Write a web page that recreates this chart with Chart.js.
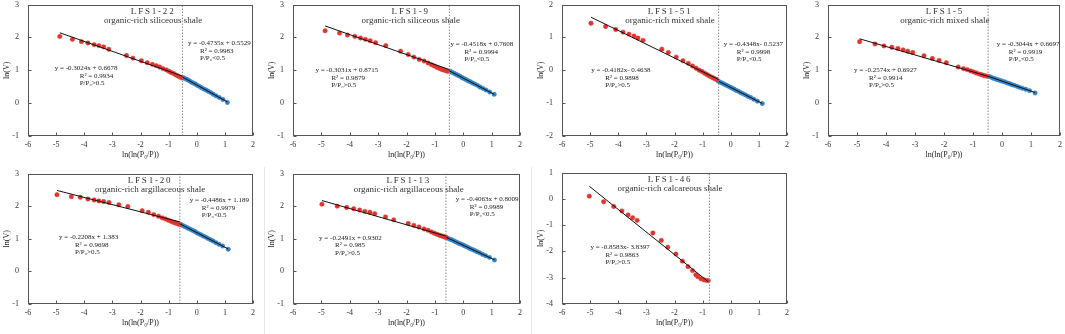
<!DOCTYPE html>
<html>
<head>
<meta charset="utf-8">
<script src="https://cdn.jsdelivr.net/npm/chart.js@4.4.0/dist/chart.umd.min.js"></script>
<style>
    body { margin: 0; background: #fff; }
    #page { position: relative; width: 1065px; height: 334px; overflow: hidden; background: #fff; }
    .panel { position: absolute; }
    .sep { position: absolute; width: 1px; background: #e8e8e8; }
</style>
</head>
<body>
<div id="page"></div>
<script>
// Sample names and lithology (one entry per panel)
const sampleNames = ['LFS1-22', 'LFS1-9', 'LFS1-51', 'LFS1-5', 'LFS1-20', 'LFS1-13', 'LFS1-46'];
const lithologies = [
    'organic-rich siliceous shale',
    'organic-rich siliceous shale',
    'organic-rich mixed shale',
    'organic-rich mixed shale',
    'organic-rich argillaceous shale',
    'organic-rich argillaceous shale',
    'organic-rich calcareous shale'
];

// Axis ranges
const xTickMin = -6;
const xTickMax = 2;
const yTickMins = [-1, -1, -2, -1, -1, -1, -4];
const yTickMaxs = [3, 3, 2, 3, 3, 3, 1];

// Position of P/P0 = 0.5 (dotted line)
const dividers = [-0.51, -0.49, -0.43, -0.48, -0.60, -0.61, -0.76];

// Fit parameters (from the equations on the figure)
const highSlopes = [-0.3024, -0.3031, -0.4182, -0.2574, -0.2208, -0.2491, -0.8583];
const highIntercepts = [0.6678, 0.8715, -0.4638, 0.6927, 1.383, 0.9302, -3.8397];
const lowSlopes = [-0.4735, -0.4518, -0.4348, -0.3044, -0.4486, -0.4063, null];
const lowIntercepts = [0.5529, 0.7608, -0.5237, 0.6697, 1.189, 0.8009, null];

const highEquations = ['y = -0.3024x + 0.6678', 'y = -0.3031x + 0.8715', 'y = -0.4182x- 0.4638', 'y = -0.2574x + 0.6927',
    'y = -0.2208x + 1.383', 'y = -0.2491x + 0.9302', 'y = -0.8583x- 3.8397'];
const highR2 = ['R² = 0.9934', 'R² = 0.9879', 'R² = 0.9898', 'R² = 0.9914', 'R² = 0.9698', 'R² = 0.985', 'R² = 0.9863'];
const lowEquations = ['y = -0.4735x + 0.5529', 'y = -0.4518x + 0.7608', 'y = -0.4348x- 0.5237', 'y = -0.3044x + 0.6697',
    'y = -0.4486x + 1.189', 'y = -0.4063x + 0.8009', null];
const lowR2 = ['R² = 0.9983', 'R² = 0.9994', 'R² = 0.9998', 'R² = 0.9919', 'R² = 0.9979', 'R² = 0.9989', null];

// LFS1-22
const lfs22HighX = [-4.87, -4.42, -4.10, -3.87, -3.65, -3.48, -3.31, -3.13, -2.50, -2.27, -1.97, -1.76, -1.58, -1.44, -1.32, -1.20, -1.08, -0.99, -0.91, -0.82, -0.75, -0.68, -0.61, -0.54];
const lfs22HighY = [2.03, 1.94, 1.87, 1.83, 1.78, 1.75, 1.71, 1.64, 1.45, 1.37, 1.29, 1.23, 1.18, 1.14, 1.10, 1.05, 1.01, 0.97, 0.93, 0.90, 0.86, 0.83, 0.80, 0.77];
const lfs22LowX = [-0.47, -0.40, -0.33, -0.26, -0.19, -0.12, -0.05, 0.02, 0.09, 0.17, 0.25, 0.33, 0.41, 0.50, 0.59, 0.69, 0.80, 0.93, 1.09];
const lfs22LowY = [0.77, 0.74, 0.71, 0.68, 0.64, 0.61, 0.58, 0.54, 0.51, 0.47, 0.43, 0.40, 0.36, 0.32, 0.27, 0.22, 0.17, 0.11, 0.02];

// LFS1-9
const lfs9HighX = [-4.87, -4.36, -4.08, -3.82, -3.62, -3.45, -3.28, -3.09, -2.73, -2.21, -1.94, -1.74, -1.55, -1.38, -1.24, -1.12, -1.02, -0.93, -0.85, -0.77, -0.70, -0.63, -0.56];
const lfs9HighY = [2.20, 2.13, 2.07, 2.03, 1.98, 1.94, 1.90, 1.84, 1.75, 1.58, 1.48, 1.40, 1.33, 1.28, 1.22, 1.17, 1.13, 1.09, 1.06, 1.03, 1.01, 0.99, 0.97];
const lfs9LowX = [-0.47, -0.40, -0.33, -0.26, -0.19, -0.12, -0.05, 0.02, 0.09, 0.17, 0.25, 0.33, 0.41, 0.50, 0.59, 0.69, 0.80, 0.93, 1.09];
const lfs9LowY = [0.97, 0.94, 0.91, 0.88, 0.85, 0.82, 0.78, 0.75, 0.72, 0.68, 0.65, 0.61, 0.58, 0.54, 0.49, 0.45, 0.40, 0.34, 0.27];

// LFS1-51
const lfs51HighX = [-4.97, -4.45, -4.09, -3.83, -3.62, -3.44, -3.30, -3.12, -2.45, -2.22, -1.94, -1.70, -1.51, -1.36, -1.23, -1.12, -1.02, -0.93, -0.85, -0.77, -0.70, -0.63, -0.57, -0.51];
const lfs51HighY = [1.43, 1.33, 1.24, 1.16, 1.10, 1.04, 0.98, 0.91, 0.64, 0.54, 0.40, 0.29, 0.21, 0.13, 0.06, 0.00, -0.04, -0.09, -0.13, -0.17, -0.20, -0.23, -0.26, -0.28];
const lfs51LowX = [-0.45, -0.38, -0.31, -0.24, -0.17, -0.10, -0.03, 0.04, 0.11, 0.19, 0.27, 0.35, 0.43, 0.52, 0.61, 0.71, 0.82, 0.95, 1.12];
const lfs51LowY = [-0.33, -0.36, -0.39, -0.42, -0.45, -0.48, -0.51, -0.54, -0.57, -0.61, -0.64, -0.68, -0.71, -0.75, -0.79, -0.83, -0.88, -0.94, -1.01];

// LFS1-5
const lfs5HighX = [-4.91, -4.38, -4.07, -3.80, -3.59, -3.41, -3.25, -3.08, -2.69, -2.40, -2.17, -1.92, -1.51, -1.33, -1.20, -1.08, -0.98, -0.89, -0.80, -0.72, -0.65, -0.58, -0.52];
const lfs5HighY = [1.87, 1.80, 1.74, 1.70, 1.66, 1.62, 1.58, 1.54, 1.44, 1.36, 1.30, 1.23, 1.10, 1.05, 1.02, 0.98, 0.95, 0.92, 0.89, 0.87, 0.85, 0.83, 0.82];
const lfs5LowX = [-0.45, -0.38, -0.31, -0.24, -0.17, -0.10, -0.03, 0.04, 0.11, 0.19, 0.27, 0.35, 0.43, 0.52, 0.61, 0.71, 0.82, 0.95, 1.14];
const lfs5LowY = [0.81, 0.79, 0.76, 0.74, 0.72, 0.70, 0.68, 0.66, 0.64, 0.61, 0.59, 0.56, 0.54, 0.51, 0.48, 0.45, 0.42, 0.38, 0.31];

// LFS1-20
const lfs20HighX = [-4.97, -4.46, -4.14, -3.87, -3.65, -3.48, -3.31, -3.12, -2.77, -2.45, -1.94, -1.72, -1.53, -1.36, -1.23, -1.12, -1.02, -0.93, -0.85, -0.78, -0.71, -0.65, -0.60];
const lfs20HighY = [2.35, 2.29, 2.27, 2.22, 2.19, 2.16, 2.14, 2.11, 2.04, 1.99, 1.86, 1.81, 1.74, 1.69, 1.64, 1.61, 1.57, 1.54, 1.51, 1.49, 1.47, 1.45, 1.44];
const lfs20LowX = [-0.55, -0.48, -0.41, -0.34, -0.27, -0.20, -0.13, -0.06, 0.01, 0.08, 0.16, 0.24, 0.32, 0.40, 0.49, 0.58, 0.68, 0.79, 0.92, 1.12];
const lfs20LowY = [1.43, 1.40, 1.37, 1.34, 1.31, 1.28, 1.25, 1.22, 1.18, 1.15, 1.12, 1.08, 1.05, 1.01, 0.97, 0.93, 0.88, 0.83, 0.78, 0.68];

// LFS1-13
const lfs13HighX = [-4.98, -4.44, -4.11, -3.86, -3.65, -3.47, -3.29, -3.12, -2.74, -2.45, -1.94, -1.74, -1.56, -1.38, -1.24, -1.12, -1.02, -0.93, -0.85, -0.78, -0.71, -0.65, -0.60];
const lfs13HighY = [2.06, 2.00, 1.96, 1.92, 1.88, 1.84, 1.81, 1.77, 1.67, 1.58, 1.47, 1.41, 1.36, 1.30, 1.26, 1.21, 1.17, 1.14, 1.11, 1.09, 1.07, 1.05, 1.04];
const lfs13LowX = [-0.55, -0.48, -0.41, -0.34, -0.27, -0.20, -0.13, -0.06, 0.01, 0.08, 0.16, 0.24, 0.32, 0.40, 0.49, 0.58, 0.68, 0.79, 0.92, 1.10];
const lfs13LowY = [1.02, 0.99, 0.97, 0.94, 0.91, 0.88, 0.85, 0.83, 0.80, 0.77, 0.74, 0.70, 0.67, 0.64, 0.60, 0.57, 0.52, 0.48, 0.43, 0.35];

// LFS1-46 (only P/P0 > 0.5)
const lfs46HighX = [-5.03, -4.52, -4.16, -3.87, -3.65, -3.49, -3.33, -2.77, -2.47, -2.24, -1.95, -1.72, -1.52, -1.36, -1.24, -1.17, -1.06, -0.96, -0.88, -0.80];
const lfs46HighY = [0.10, -0.11, -0.29, -0.46, -0.61, -0.72, -0.82, -1.30, -1.58, -1.84, -2.10, -2.37, -2.58, -2.73, -2.89, -2.96, -3.04, -3.08, -3.10, -3.11];

const highXs = [lfs22HighX, lfs9HighX, lfs51HighX, lfs5HighX, lfs20HighX, lfs13HighX, lfs46HighX];
const highYs = [lfs22HighY, lfs9HighY, lfs51HighY, lfs5HighY, lfs20HighY, lfs13HighY, lfs46HighY];
const lowXs = [lfs22LowX, lfs9LowX, lfs51LowX, lfs5LowX, lfs20LowX, lfs13LowX, []];
const lowYs = [lfs22LowY, lfs9LowY, lfs51LowY, lfs5LowY, lfs20LowY, lfs13LowY, []];

// ---- layout (page pixels) ----
const panelBoxes = [
    { left: 28, top: 4, width: 225, height: 132 },
    { left: 293, top: 4, width: 227, height: 132 },
    { left: 562, top: 4, width: 225, height: 132 },
    { left: 828, top: 4, width: 232, height: 132 },
    { left: 28, top: 173, width: 225, height: 131 },
    { left: 293, top: 173, width: 227, height: 131 },
    { left: 562, top: 172, width: 225, height: 132 }
];
// title centre (data x), annotation anchors (data x/y of first line, px indent of next lines)
const titleCenters = [-1.55, -1.85, -2.16, -1.97, -1.66, -1.92, -2.16];
const highLabelPos = [
    { x: -5.05, y: 1.05, indent: 25 }, { x: -5.21, y: 1.0, indent: 16 }, { x: -4.96, y: 0.0, indent: 14 },
    { x: -5.10, y: 1.0, indent: 15 }, { x: -4.90, y: 1.04, indent: 16 }, { x: -5.08, y: 1.02, indent: 16 },
    { x: -4.99, y: -1.85, indent: 15 }
];
const lowLabelPos = [
    { x: -0.31, y: 1.81, indent: 12 }, { x: -0.45, y: 1.79, indent: 14 }, { x: -0.25, y: 0.79, indent: 13 },
    { x: -0.18, y: 1.78, indent: 12 }, { x: -0.25, y: 2.18, indent: 12 }, { x: -0.26, y: 2.20, indent: 14 },
    null
];

const FONT = '"Liberation Serif", "Times New Roman", serif';
const RED = '#e2342c';
const BLUE = '#3383c8';
const Y_AXIS_W = 28;
const X_AXIS_H = 24;
const PAD_TOP = 4;
const PAD_RIGHT = 6;

// draws frame, inward ticks, titles and fit equations
const panelDecor = {
    id: 'panelDecor',
    afterDraw(chart, args, opts) {
        const ctx = chart.ctx;
        const area = chart.chartArea;
        const xs = chart.scales.x;
        const ys = chart.scales.y;
        const i = opts.index;

        ctx.save();
        ctx.strokeStyle = '#555';
        ctx.lineWidth = 1;
        const l = Math.round(area.left) + 0.5;
        const t = Math.round(area.top) + 0.5;
        const r = Math.round(area.right) - 0.5;
        const b = Math.round(area.bottom) - 0.5;
        ctx.strokeRect(l, t, r - l, b - t);

        // inward tick marks
        ctx.beginPath();
        xs.ticks.forEach(tk => {
            const px = Math.round(xs.getPixelForValue(tk.value)) + 0.5;
            ctx.moveTo(px, b);
            ctx.lineTo(px, b - 3);
        });
        ys.ticks.forEach(tk => {
            const py = Math.round(ys.getPixelForValue(tk.value)) + 0.5;
            ctx.moveTo(l, py);
            ctx.lineTo(l + 3, py);
        });
        ctx.stroke();

        // title
        ctx.fillStyle = '#333';
        ctx.textAlign = 'center';
        ctx.textBaseline = 'middle';
        const tx = xs.getPixelForValue(titleCenters[i]);
        ctx.font = '9px ' + FONT;
        ctx.letterSpacing = '1.8px';
        ctx.fillText(sampleNames[i], tx, area.top + 7);
        ctx.letterSpacing = '0px';
        ctx.fillText(lithologies[i], tx, area.top + 16);

        // equations
        ctx.fillStyle = '#222';
        ctx.textAlign = 'left';
        ctx.font = '7px ' + FONT;
        const drawBlock = (pos, lines) => {
            const x0 = xs.getPixelForValue(pos.x);
            const y0 = ys.getPixelForValue(pos.y);
            ctx.fillText(lines[0], x0, y0);
            ctx.fillText(lines[1], x0 + pos.indent, y0 + 7.5);
            ctx.fillText(lines[2], x0 + pos.indent, y0 + 15);
        };
        drawBlock(highLabelPos[i], [highEquations[i], highR2[i], 'P/P₀>0.5']);
        if (lowEquations[i]) {
            drawBlock(lowLabelPos[i], [lowEquations[i], lowR2[i], 'P/P₀<0.5']);
        }
        ctx.restore();
    }
};

function toPoints(xArr, yArr) {
    return xArr.map((x, k) => ({ x: x, y: yArr[k] }));
}

function fitSegment(m, c, x0, x1) {
    return [{ x: x0, y: m * x0 + c }, { x: x1, y: m * x1 + c }];
}

function buildPanel(i) {
    const box = panelBoxes[i];
    const canvas = document.createElement('canvas');
    canvas.className = 'panel';
    const w = Y_AXIS_W + box.width + PAD_RIGHT;
    const h = PAD_TOP + box.height + X_AXIS_H;
    canvas.width = w;
    canvas.height = h;
    canvas.style.width = w + 'px';
    canvas.style.height = h + 'px';
    canvas.style.left = (box.left - Y_AXIS_W) + 'px';
    canvas.style.top = (box.top - PAD_TOP) + 'px';
    document.getElementById('page').appendChild(canvas);

    const highX = highXs[i];
    const hasLow = lowXs[i].length > 0;
    const highEnd = hasLow ? dividers[i] : highX[highX.length - 1];

    const datasets = [
        {
            label: 'fit high',
            data: fitSegment(highSlopes[i], highIntercepts[i], highX[0], highEnd),
            showLine: true, borderColor: '#111', borderWidth: 1, pointRadius: 0
        }
    ];
    if (hasLow) {
        const lowX = lowXs[i];
        datasets.push({
            label: 'fit low',
            data: fitSegment(lowSlopes[i], lowIntercepts[i], dividers[i], lowX[lowX.length - 1]),
            showLine: true, borderColor: '#111', borderWidth: 1, pointRadius: 0
        });
    }
    datasets.push({
        label: 'P/P0 = 0.5',
        data: [{ x: dividers[i], y: yTickMins[i] }, { x: dividers[i], y: yTickMaxs[i] }],
        showLine: true, borderColor: '#888', borderWidth: 1, borderDash: [1.5, 1.5], pointRadius: 0
    });
    datasets.push({
        label: 'P/P0>0.5',
        data: toPoints(highX, highYs[i]),
        pointRadius: 2.2, pointBackgroundColor: RED, pointBorderColor: RED, pointBorderWidth: 0.5
    });
    if (hasLow) {
        datasets.push({
            label: 'P/P0<0.5',
            data: toPoints(lowXs[i], lowYs[i]),
            pointRadius: 2.2, pointBackgroundColor: BLUE, pointBorderColor: BLUE, pointBorderWidth: 0.5
        });
    }

    const tickFont = { family: FONT, size: 8 };

    new Chart(canvas, {
        type: 'scatter',
        data: { datasets: datasets },
        options: {
            responsive: false,
            animation: false,
            events: [],
            layout: { padding: { top: PAD_TOP, right: PAD_RIGHT, left: 0, bottom: 0 } },
            plugins: {
                legend: { display: false },
                tooltip: { enabled: false },
                panelDecor: { index: i }
            },
            scales: {
                x: {
                    type: 'linear',
                    min: xTickMin,
                    max: xTickMax,
                    ticks: { stepSize: 1, padding: 4, color: '#333', font: tickFont, maxRotation: 0, autoSkip: false },
                    grid: { display: false, drawTicks: false },
                    border: { display: false },
                    title: { display: true, text: 'ln(ln(P₀/P))', color: '#222', font: tickFont, padding: 0 },
                    afterFit: function (scale) {
                        scale.height = X_AXIS_H;
                        scale.paddingLeft = 0;
                        scale.paddingRight = 0;
                        scale.paddingTop = 0;
                        scale.paddingBottom = 0;
                    }
                },
                y: {
                    type: 'linear',
                    min: yTickMins[i],
                    max: yTickMaxs[i],
                    ticks: { stepSize: 1, padding: 9, color: '#333', font: tickFont },
                    grid: { display: false, drawTicks: false },
                    border: { display: false },
                    title: { display: true, text: 'ln(V)', color: '#222', font: tickFont, padding: { top: 2, bottom: 0 } },
                    afterFit: function (scale) {
                        scale.width = Y_AXIS_W;
                        scale.paddingTop = 0;
                        scale.paddingBottom = 0;
                        scale.paddingLeft = 0;
                        scale.paddingRight = 0;
                    }
                }
            }
        },
        plugins: [panelDecor]
    });
}

document.addEventListener('DOMContentLoaded', function () {
    const page = document.getElementById('page');
    // faint separators between the lower panels
    [264, 531].forEach(x => {
        const s = document.createElement('div');
        s.className = 'sep';
        s.style.left = x + 'px';
        s.style.top = '167px';
        s.style.height = '167px';
        page.appendChild(s);
    });
    for (let i = 0; i < sampleNames.length; i++) {
        buildPanel(i);
    }
});
</script>
</body>
</html>
